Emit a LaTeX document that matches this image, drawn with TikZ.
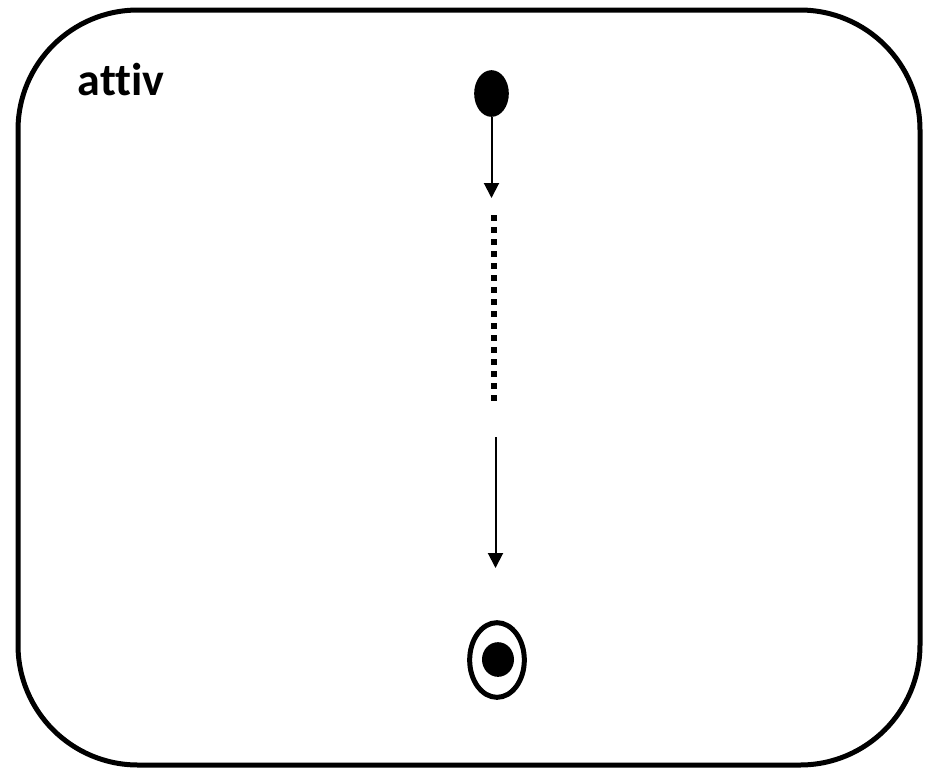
\documentclass[tikz,border=0pt]{standalone}
\usepackage{fontspec}
\setmainfont{Carlito}[Ligatures=NoCommon]
\usepackage{tikz}
\usetikzlibrary{arrows.meta,shapes.geometric}

\begin{document}
\begin{tikzpicture}[>={Triangle[width=11.25pt,length=11.25pt]}, x=0.75pt, y=-0.75pt,
    flow/.style={line width=1.5pt},
    startdot/.style={ellipse, fill=black, inner sep=0pt, minimum width=26pt, minimum height=35pt},
    enddot/.style={ellipse, draw, line width=3.75pt, inner sep=0pt, minimum width=41pt, minimum height=56pt},
    endcore/.style={ellipse, fill=black, inner sep=0pt, minimum width=24pt, minimum height=26pt}]
  \useasboundingbox (0,0) rectangle (933,769);
  \draw[line width=3.75pt, rounded corners=90pt] (18,10) rectangle (920,765);
  \node[anchor=base west, font=\fontsize{34.5}{40}\selectfont\bfseries] (title) at (73,95) {attiv};
  % start and end
  \node[startdot] (start) at (491.5,93.5) {};
  \node[enddot] (stop) at (497,660) {};
  \node[endcore] (stopcore) at (498,659.5) {};
  % arrows
  \coordinate (a1) at (491.5,198);
  \coordinate (d1) at (494,215);
  \coordinate (d2) at (494,406);
  \coordinate (b1) at (495.5,437);
  \coordinate (b2) at (495.5,568);
  \draw[flow, ->] (start.south) -- (a1);
  \draw[line width=4.5pt, dash pattern=on 4.5pt off 4.5pt] (d1) -- (d2);
  \draw[flow, ->] (b1) -- (b2);
\end{tikzpicture}
\end{document}
